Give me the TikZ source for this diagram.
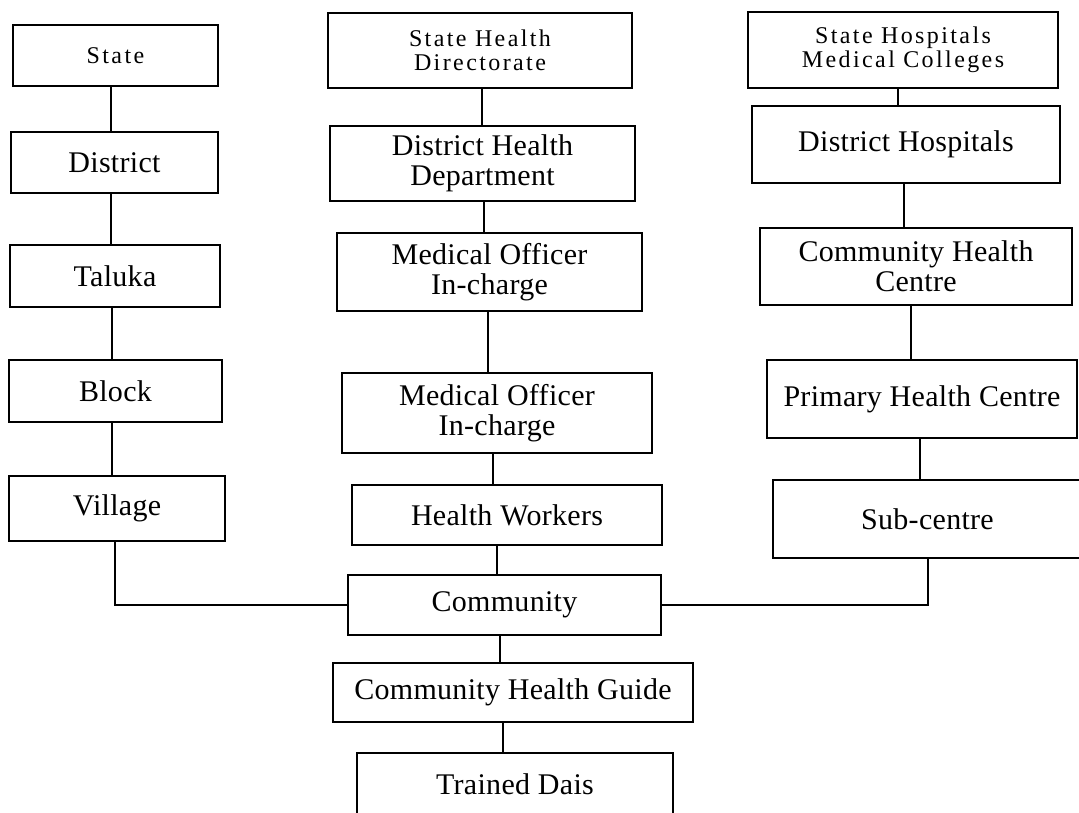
\documentclass[tikz,border=0pt]{standalone}
\usepackage{fontspec}
\setmainfont{Liberation Serif}
\newfontfamily\mainf[LetterSpace=1]{Liberation Serif}
\newfontfamily\topf[LetterSpace=10]{Liberation Serif}
\begin{document}
\begin{tikzpicture}[x=1pt,y=-1pt,
  box/.style={draw, line width=1.5pt, inner sep=0pt, align=center,
    font=\mainf\fontsize{30}{30}\selectfont},
  topbox/.style={box, font=\topf\fontsize{24}{24.5}\selectfont},
  link/.style={line width=1.5pt}]
\useasboundingbox (0,0) rectangle (1079,812);
\fill[white] (0,0) rectangle (1079,812);

% left column
\node[topbox, minimum width=205pt, minimum height=61pt] (state) at (115.5,55.5) {State};
\node[box, minimum width=207pt, minimum height=61pt] (district) at (114.5,162.5) {District};
\node[box, minimum width=210pt, minimum height=62pt] (taluka) at (115,276) {Taluka};
\node[box, minimum width=213pt, minimum height=62pt] (block) at (115.5,391) {Block};
\node[box, minimum width=216pt, minimum height=65pt] (village) at (117,508.5) {Village};

% middle column
\node[topbox, minimum width=304pt, minimum height=75pt] (shd) at (480,50.5) {State Health\\Directorate};
\node[box, minimum width=305pt, minimum height=75pt] (dhd) at (482.5,163.5) {District Health\\Department};
\node[box, minimum width=305pt, minimum height=78pt] (moa) at (489.5,272) {Medical Officer\\In-charge};
\node[box, minimum width=310pt, minimum height=80pt] (mob) at (497,413) {Medical Officer\\In-charge};
\node[box, minimum width=310pt, minimum height=60pt] (hw) at (507,515) {Health Workers};
\node[box, minimum width=313pt, minimum height=60pt] (comm) at (504.5,605) {Community};
\node[box, minimum width=360pt, minimum height=59pt] (chg) at (513,692.5) {Community Health Guide};
\node[box, minimum width=316pt, minimum height=62pt] (td) at (515,784) {Trained Dais};

% right column
\node[topbox, minimum width=310pt, minimum height=76pt] (shmc) at (903,50) {State Hospitals\\Medical Colleges};
\node[box, minimum width=308pt, minimum height=77pt] (dh) at (906,144.5) {District Hospitals};
\node[box, minimum width=312pt, minimum height=77pt] (chc) at (916,266.5) {Community Health\\Centre};
\node[box, minimum width=310pt, minimum height=78pt] (phc) at (922,399) {Primary Health Centre};
\node[box, minimum width=309pt, minimum height=78pt] (sc) at (927.5,519) {Sub-centre};

% connector x positions
\coordinate (l1) at (111,0);
\coordinate (l2) at (111,0);
\coordinate (l3) at (112,0);
\coordinate (l4) at (112,0);
\coordinate (l5) at (115,0);
\coordinate (m1) at (482,0);
\coordinate (m2) at (484,0);
\coordinate (m3) at (488,0);
\coordinate (m4) at (493,0);
\coordinate (m5) at (497,0);
\coordinate (m6) at (500,0);
\coordinate (m7) at (503,0);
\coordinate (r1) at (898,0);
\coordinate (r2) at (904,0);
\coordinate (r3) at (911,0);
\coordinate (r4) at (920,0);
\coordinate (r5) at (928,0);

\draw[link] (state.south -| l1) -- (district.north -| l1);
\draw[link] (district.south -| l2) -- (taluka.north -| l2);
\draw[link] (taluka.south -| l3) -- (block.north -| l3);
\draw[link] (block.south -| l4) -- (village.north -| l4);
\draw[link] (village.south -| l5) |- (comm.west);

\draw[link] (shd.south -| m1) -- (dhd.north -| m1);
\draw[link] (dhd.south -| m2) -- (moa.north -| m2);
\draw[link] (moa.south -| m3) -- (mob.north -| m3);
\draw[link] (mob.south -| m4) -- (hw.north -| m4);
\draw[link] (hw.south -| m5) -- (comm.north -| m5);
\draw[link] (comm.south -| m6) -- (chg.north -| m6);
\draw[link] (chg.south -| m7) -- (td.north -| m7);

\draw[link] (shmc.south -| r1) -- (dh.north -| r1);
\draw[link] (dh.south -| r2) -- (chc.north -| r2);
\draw[link] (chc.south -| r3) -- (phc.north -| r3);
\draw[link] (phc.south -| r4) -- (sc.north -| r4);
\draw[link] (sc.south -| r5) |- (comm.east);
\end{tikzpicture}
\end{document}
